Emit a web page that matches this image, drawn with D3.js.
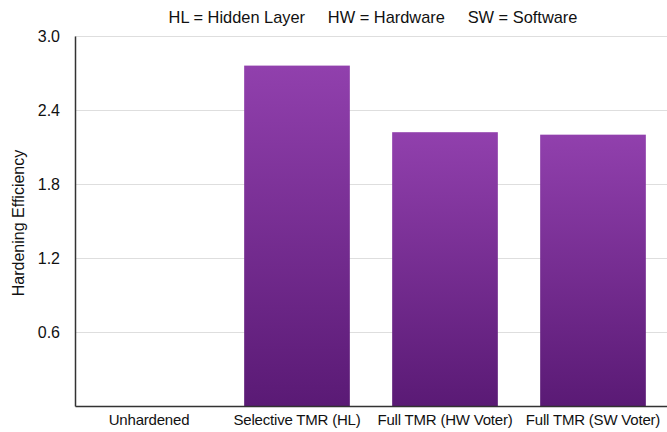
<!DOCTYPE html>
<html>
<head>
<meta charset="utf-8">
<script src="https://cdn.jsdelivr.net/npm/d3@7"></script>
<style>
  html, body { margin: 0; padding: 0; background: #fff; }
  svg { display: block; font-family: "Liberation Sans", Arial, Helvetica, sans-serif; }
</style>
</head>
<body>
<svg id="chart" width="667" height="432"></svg>
<script>
// Hardening efficiency per protection scheme
const categories = ["Unhardened", "Selective TMR (HL)", "Full TMR (HW Voter)", "Full TMR (SW Voter)"];
const efficiency = [0, 2.76, 2.22, 2.2];
const yTicks = [0.6, 1.2, 1.8, 2.4, 3.0];
const titleText = "HL = Hidden Layer     HW = Hardware     SW = Software";
const yLabel = "Hardening Efficiency";

const width = 667, height = 432;
const margin = { top: 36, right: 0, bottom: 26, left: 75 };

const svg = d3.select("#chart");

const x = d3.scaleBand()
  .domain(categories)
  .range([margin.left, width - margin.right])
  .paddingInner(0.286)
  .paddingOuter(0.143);

const y = d3.scaleLinear()
  .domain([0, 3.0])
  .range([height - margin.bottom, margin.top]);

// vertical purple gradient used by every bar
const defs = svg.append("defs");
const grad = defs.append("linearGradient")
  .attr("id", "barFill")
  .attr("x1", 0).attr("y1", 0).attr("x2", 0).attr("y2", 1);
grad.append("stop").attr("offset", "0%").attr("stop-color", "#9140ad");
grad.append("stop").attr("offset", "100%").attr("stop-color", "#5a1a75");

// horizontal gridlines
svg.append("g")
  .selectAll("line")
  .data(yTicks)
  .join("line")
  .attr("x1", margin.left)
  .attr("x2", width - margin.right)
  .attr("y1", d => Math.round(y(d)) + 0.5)
  .attr("y2", d => Math.round(y(d)) + 0.5)
  .attr("stroke", "#dedede")
  .attr("stroke-width", 1);

// bars
svg.append("g")
  .selectAll("rect")
  .data(categories.map((c, i) => ({ c, v: efficiency[i] })).filter(d => d.v > 0))
  .join("rect")
  .attr("x", d => x(d.c))
  .attr("width", x.bandwidth())
  .attr("y", d => y(d.v))
  .attr("height", d => y(0) - y(d.v))
  .attr("fill", "url(#barFill)");

// y axis
const yAxis = d3.axisLeft(y)
  .tickValues(yTicks)
  .tickFormat(d3.format(".1f"))
  .tickSize(0)
  .tickPadding(15);
const gy = svg.append("g")
  .attr("transform", `translate(${margin.left},0)`)
  .call(yAxis);
gy.select(".domain")
  .attr("stroke", "#333")
  .attr("stroke-width", 1.5);
gy.selectAll("text")
  .attr("fill", "#111")
  .attr("font-size", 16);

// x axis
const xAxis = d3.axisBottom(x).tickSize(0).tickPadding(8);
const gx = svg.append("g")
  .attr("transform", `translate(0,${y(0)})`)
  .call(xAxis);
gx.select(".domain")
  .attr("stroke", "#333")
  .attr("stroke-width", 1.5);
gx.selectAll("text")
  .attr("fill", "#111")
  .attr("font-size", 15)
  .attr("letter-spacing", -0.2);

// y-axis title
svg.append("text")
  .attr("transform", `translate(24,${(margin.top + y(0)) / 2 + 2}) rotate(-90)`)
  .attr("text-anchor", "middle")
  .attr("font-size", 16)
  .attr("fill", "#111")
  .text(yLabel);

// legend-style note at the top
svg.append("text")
  .attr("x", 373)
  .attr("y", 23)
  .attr("text-anchor", "middle")
  .attr("font-size", 16.4)
  .attr("fill", "#111")
  .attr("xml:space", "preserve")
  .style("white-space", "pre")
  .text(titleText);
</script>
</body>
</html>
